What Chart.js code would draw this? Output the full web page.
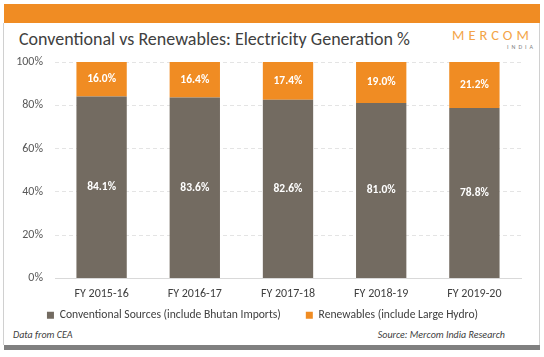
<!DOCTYPE html>
<html>
<head>
<meta charset="utf-8">
<script src="https://cdn.jsdelivr.net/npm/chart.js@4/dist/chart.umd.min.js"></script>
<style>
  html, body { margin:0; padding:0; background:#fff; }
  #wrap { position:relative; width:544px; height:357px; overflow:hidden; background:#fff; font-family: Carlito, Lato, sans-serif; }
  #topbar { position:absolute; left:4px; top:4px; width:536px; height:19px; background:#f08c23; }
  #frame { position:absolute; left:3px; top:23px; width:535px; height:322px; border-left:1px solid #d0d0d0; border-right:1px solid #d0d0d0; }
  #botbar { position:absolute; left:4px; top:345px; width:536px; height:5px; background:#808080; }
  #title { position:absolute; left:19px; top:28px; font-size:18px; color:#404040; white-space:nowrap; }
  #logo { position:absolute; left:452px; top:26px; font-size:14.5px; color:#f3a447; letter-spacing:4px; font-weight:300; white-space:nowrap; }
  #india { position:absolute; left:507px; top:43px; font-size:6px; color:#808080; letter-spacing:3px; white-space:nowrap; }
  .foot { position:absolute; top:328px; font-size:10px; font-style:italic; color:#404040; white-space:nowrap; }
  #c { position:absolute; left:0; top:0; }
</style>
</head>
<body>
<div id="wrap">
  <div id="topbar"></div>
  <div id="frame"></div>
  <div id="botbar"></div>
  <div id="title">Conventional vs Renewables: Electricity Generation %</div>
  <div id="logo">MERCOM</div>
  <div id="india">INDIA</div>
  <div class="foot" style="left:13px;">Data from CEA</div>
  <div class="foot" style="right:39px;">Source: Mercom India Research</div>
  <div style="position:absolute;left:0;top:0;width:544px;height:345px;"><canvas id="c"></canvas></div>
</div>
<script>
const categories = ["FY 2015-16", "FY 2016-17", "FY 2017-18", "FY 2018-19", "FY 2019-20"];
const conventional = [84.1, 83.6, 82.6, 81.0, 78.8];
const renewables = [16.0, 16.4, 17.4, 19.0, 21.2];
const yTicks = [0, 20, 40, 60, 80, 100];

const FONT = "Carlito, Lato, sans-serif";

const labelPlugin = {
  id: 'segLabels',
  afterDatasetsDraw(chart) {
    const ctx = chart.ctx;
    ctx.save();
    ctx.fillStyle = '#ffffff';
    ctx.font = "bold 11.5px " + FONT;
    ctx.textAlign = 'center';
    ctx.textBaseline = 'middle';
    chart.data.datasets.forEach((ds, di) => {
      const meta = chart.getDatasetMeta(di);
      meta.data.forEach((bar, i) => {
        const top = Math.max(bar.y, chart.chartArea.top);
        const yc = (top + bar.base) / 2;
        ctx.fillText(ds.data[i].toFixed(1) + '%', bar.x, yc);
      });
    });
    ctx.restore();
  }
};

const legendShift = {
  id: 'legendShift',
  afterLayout(chart) {
    if (chart.legend) {
      chart.legend.top -= 14;
      chart.legend.bottom -= 14;
      chart.legend.left += 2;
      chart.legend.right += 2;
    }
  }
};

new Chart(document.getElementById('c'), {
  type: 'bar',
  data: {
    labels: categories,
    datasets: [
      { label: 'Conventional Sources (include Bhutan Imports)', data: conventional, backgroundColor: '#736b61', barPercentage: 0.54, categoryPercentage: 1 },
      { label: 'Renewables (include Large Hydro)', data: renewables, backgroundColor: '#f08c23', barPercentage: 0.54, categoryPercentage: 1 }
    ]
  },
  options: {
    responsive: true,
    maintainAspectRatio: false,
    animation: false,
    layout: { padding: { top: 62, right: 23, left: 0, bottom: 0 } },
    plugins: {
      title: { display: false },
      tooltip: { enabled: false },
      legend: {
        position: 'bottom',
        labels: {
          font: { family: FONT, size: 11.6 },
          color: '#404040',
          boxWidth: 7,
          boxHeight: 7,
          padding: 25
        }
      }
    },
    scales: {
      x: {
        stacked: true,
        afterFit(scale) { scale.height = 20; },
        grid: { display: false, drawTicks: false },
        border: { color: '#d9d9d9' },
        ticks: { font: { family: FONT, size: 12 }, color: '#404040', padding: 8 }
      },
      y: {
        stacked: true,
        min: 0, max: 100,
        afterFit(scale) { scale.width = 55; },
        afterBuildTicks(scale) { scale.ticks = yTicks.map(v => ({ value: v })); },
        grid: { color: '#e4e4e4', drawTicks: false },
        border: { display: false, dash: [4, 3] },
        ticks: { font: { family: FONT, size: 12 }, color: '#595959', padding: 12, callback: v => v + '%' }
      }
    }
  },
  plugins: [labelPlugin, legendShift]
});
</script>
</body>
</html>
